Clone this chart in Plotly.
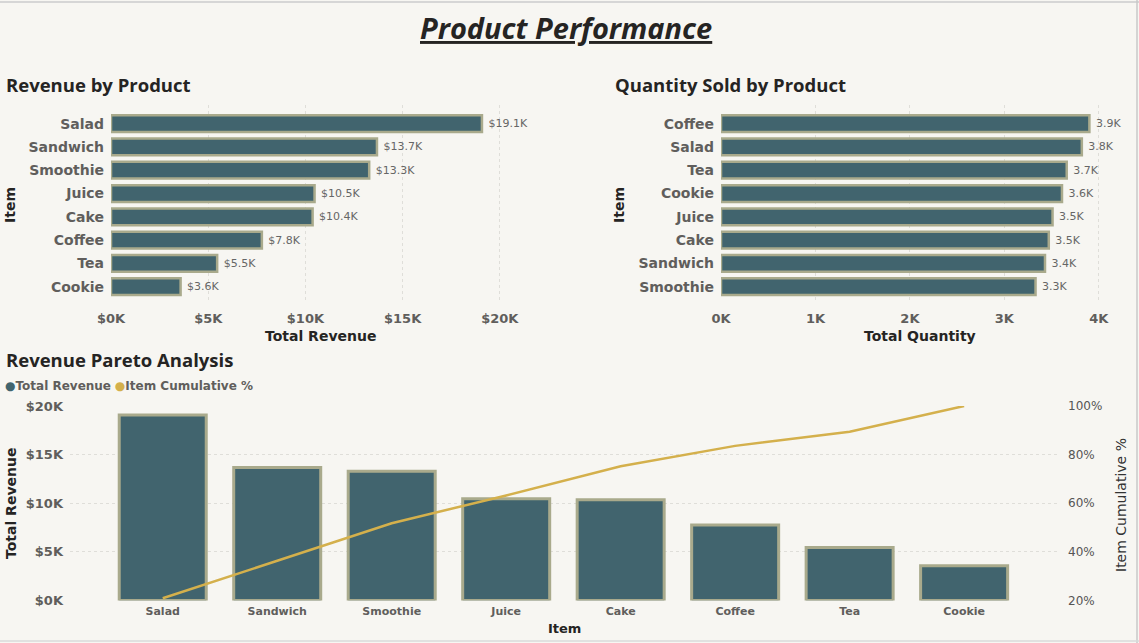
'''
Product performance dashboard: revenue, quantity and pareto
'''

import plotly.graph_objects as go

# data
rev_items = ["Salad", "Sandwich", "Smoothie", "Juice", "Cake", "Coffee", "Tea", "Cookie"]
revenue = [19080, 13680, 13280, 10470, 10370, 7760, 5460, 3580]

qty_items = ["Coffee", "Salad", "Tea", "Cookie", "Juice", "Cake", "Sandwich", "Smoothie"]
quantity = [3900, 3820, 3660, 3610, 3510, 3470, 3430, 3330]

cum_pct = [20.9, 36.2, 51.8, 63.2, 75.2, 83.6, 89.4, 100.0]

rev_ticks = [0, 5000, 10000, 15000, 20000]
rev_tick_labels = ["$0K", "$5K", "$10K", "$15K", "$20K"]
qty_ticks = [0, 1000, 2000, 3000, 4000]
qty_tick_labels = ["0K", "1K", "2K", "3K", "4K"]
pct_ticks = [20, 40, 60, 80, 100]
pct_tick_labels = ["20%", "40%", "60%", "80%", "100%"]

W, H = 1139, 643
BG = "#F7F6F2"
BAR = "#41646E"
EDGE = "#A9AA8C"
GOLD = "#D4B04C"
GRID = "#DFDED9"
TICK = "#605E5C"
LABEL = "#666666"
DARK = "#252423"
TICKFONT = "DejaVu Sans"
TITLEFONT = "Open Sans"


def px(x):
    return x / W


def py(y):
    return 1 - y / H


fig = go.Figure()

# revenue by product
fig.add_trace(go.Bar(x=revenue, y=rev_items, orientation="h",
                     marker=dict(color=BAR, line=dict(color=EDGE, width=2.5)),
                     width=0.72,
                     text=[f"\u00a0${v/1000:.1f}K" for v in revenue],
                     textposition="outside", cliponaxis=False,
                     textfont=dict(family=TICKFONT, size=11, color=LABEL),
                     showlegend=False, hoverinfo="x+y",
                     xaxis="x", yaxis="y"))

# quantity sold by product
fig.add_trace(go.Bar(x=quantity, y=qty_items, orientation="h",
                     marker=dict(color=BAR, line=dict(color=EDGE, width=2.5)),
                     width=0.72,
                     text=[f"\u00a0{v/1000:.1f}K" for v in quantity],
                     textposition="outside", cliponaxis=False,
                     textfont=dict(family=TICKFONT, size=11, color=LABEL),
                     showlegend=False, hoverinfo="x+y",
                     xaxis="x2", yaxis="y2"))

# pareto
fig.add_trace(go.Bar(x=rev_items, y=revenue, name="Total Revenue",
                     marker=dict(color=BAR, line=dict(color=EDGE, width=3)),
                     width=0.76, showlegend=False,
                     xaxis="x3", yaxis="y3"))
fig.add_trace(go.Scatter(x=rev_items, y=cum_pct, name="Item Cumulative %",
                         mode="lines", line=dict(color=GOLD, width=2.5),
                         cliponaxis=False, showlegend=False,
                         xaxis="x3", yaxis="y4"))

tickfont_b = dict(family=TICKFONT, size=13, color=TICK, weight="bold")
common = dict(automargin=False, zeroline=False, ticks="", showline=False)

fig.update_layout(
    width=W, height=H,
    paper_bgcolor=BG, plot_bgcolor=BG,
    margin=dict(l=0, r=0, t=0, b=0, autoexpand=False),
    bargap=0.2,
    xaxis=dict(domain=[px(111), px(529)], range=[0, 21500], anchor="y",
               tickvals=rev_ticks, ticktext=rev_tick_labels,
               showgrid=True, gridcolor=GRID, griddash="dot", gridwidth=1,
               tickfont=tickfont_b, ticklabelstandoff=6, **common),
    yaxis=dict(domain=[py(303), py(105)], anchor="x", type="category",
               categoryorder="array", categoryarray=rev_items, range=[7.7, -0.8],
               showgrid=False,
               tickfont=dict(family=TICKFONT, size=14, color=TICK, weight="bold"),
               ticklabelstandoff=6, **common),
    xaxis2=dict(domain=[px(721), px(1113)], range=[0, 4150], anchor="y2",
                tickvals=qty_ticks, ticktext=qty_tick_labels,
                showgrid=True, gridcolor=GRID, griddash="dot", gridwidth=1,
                tickfont=tickfont_b, ticklabelstandoff=6, **common),
    yaxis2=dict(domain=[py(303), py(105)], anchor="x2", type="category",
                categoryorder="array", categoryarray=qty_items, range=[7.7, -0.8],
                showgrid=False,
                tickfont=dict(family=TICKFONT, size=14, color=TICK, weight="bold"),
                ticklabelstandoff=6, **common),
    xaxis3=dict(domain=[px(70), px(1058)], range=[-0.81, 7.82], anchor="y3",
                type="category", categoryorder="array", categoryarray=rev_items,
                showgrid=False,
                tickfont=dict(family=TICKFONT, size=11, color=TICK, weight="bold"),
                ticklabelstandoff=2, **common),
    yaxis3=dict(domain=[py(600.5), py(406)], range=[0, 20000], anchor="x3",
                tickvals=rev_ticks, ticktext=rev_tick_labels,
                showgrid=True, gridcolor=GRID, griddash="dot", gridwidth=1,
                tickfont=dict(family=TICKFONT, size=13, color=TICK, weight="bold"),
                ticklabelstandoff=6, **common),
    yaxis4=dict(overlaying="y3", side="right", anchor="x3", range=[20, 100],
                tickvals=pct_ticks, ticktext=pct_tick_labels,
                showgrid=False,
                tickfont=dict(family=TICKFONT, size=12, color="#555555"),
                ticklabelstandoff=9, **common),
)

annotations = [
    dict(text="<b><i><u>Product Performance</u></i></b>", x=px(566), y=py(28),
         font=dict(family=TITLEFONT, size=29, color=DARK)),
    dict(text="<b>Revenue by Product</b>", x=px(4), y=py(85), xanchor="left",
         font=dict(family=TITLEFONT, size=18.5, color=DARK)),
    dict(text="<b>Quantity Sold by Product</b>", x=px(613), y=py(85), xanchor="left",
         font=dict(family=TITLEFONT, size=18.5, color=DARK)),
    dict(text="<b>Revenue Pareto Analysis</b>", x=px(4), y=py(359), xanchor="left",
         font=dict(family=TITLEFONT, size=18.5, color=DARK)),
    dict(text="<b>Total Revenue</b>", x=px(320), y=py(336),
         font=dict(family=TICKFONT, size=14, color=DARK)),
    dict(text="<b>Total Quantity</b>", x=px(920), y=py(336),
         font=dict(family=TICKFONT, size=14, color=DARK)),
    dict(text="<b>Item</b>", x=px(10), y=py(205), textangle=-90,
         font=dict(family=TICKFONT, size=14, color=DARK)),
    dict(text="<b>Item</b>", x=px(619), y=py(205), textangle=-90,
         font=dict(family=TICKFONT, size=14, color=DARK)),
    dict(text="<b>Total Revenue</b>", x=px(11), y=py(504), textangle=-90,
         font=dict(family=TICKFONT, size=14, color=DARK)),
    dict(text="<b>Item</b>", x=px(564), y=py(628),
         font=dict(family=TICKFONT, size=13, color=DARK)),
    dict(text="Item Cumulative %", x=px(1121), y=py(505), textangle=-90,
         font=dict(family=TICKFONT, size=14, color="#333333")),
    dict(text=(f'<span style="color:{BAR}">●</span><b>Total Revenue</b> '
               f'<span style="color:{GOLD}">●</span><b>Item Cumulative %</b>'),
         x=px(3), y=py(386), xanchor="left",
         font=dict(family=TICKFONT, size=12, color=TICK)),
]
for a in annotations:
    a.setdefault("xanchor", "center")
    a.update(xref="paper", yref="paper", showarrow=False, yanchor="middle")
fig.update_layout(annotations=annotations)

# frame lines of the report page
fig.add_shape(type="line", xref="paper", yref="paper", x0=0, x1=1,
              y0=py(2), y1=py(2), line=dict(color="#D6D6D6", width=2))
fig.add_shape(type="line", xref="paper", yref="paper", x0=px(1137), x1=px(1137),
              y0=0, y1=1, line=dict(color="#C8C8C8", width=1.5))
fig.add_shape(type="line", xref="paper", yref="paper", x0=0, x1=1,
              y0=py(641), y1=py(641), line=dict(color="#DADADA", width=1.5))

# drop the default page margin so the figure fills the window
fig.write_html("out.html", config={"displayModeBar": False},
               post_script="document.body.style.margin='0px';")
